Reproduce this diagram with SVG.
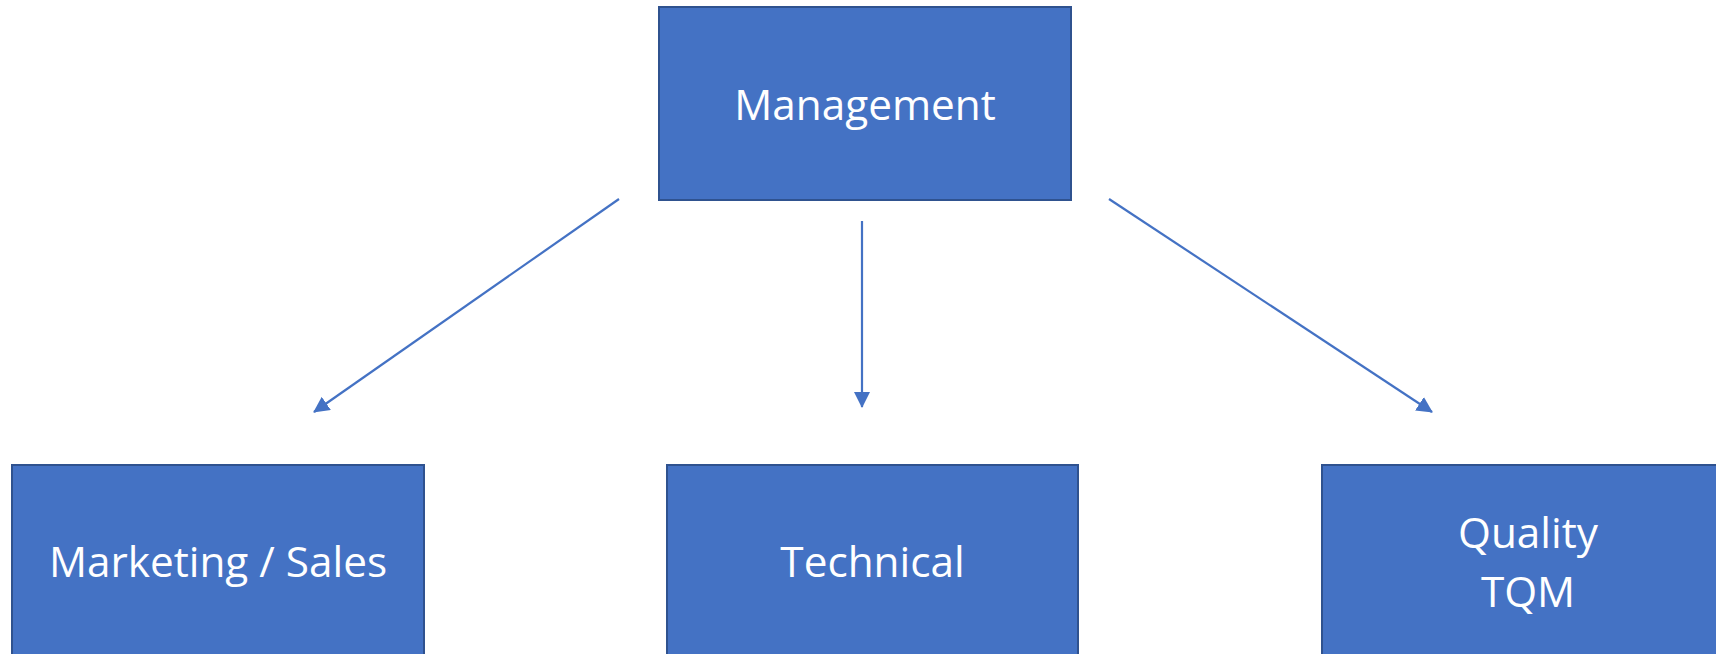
<svg xmlns="http://www.w3.org/2000/svg" width="1716" height="654" viewBox="0 0 1716 654">
  <style>
    .box { fill: #4472C4; stroke: #2F528F; stroke-width: 2; }
    .lbl { fill: #FFFFFF; font-family: "Open Sans", "Noto Sans", "Liberation Sans", sans-serif; font-size: 42.3px; text-anchor: middle; }
    .conn { stroke: #4472C4; stroke-width: 2.2; fill: none; marker-end: url(#arrow); }
  </style>
  <defs>
    <marker id="arrow" markerUnits="userSpaceOnUse" markerWidth="16" markerHeight="16" refX="15" refY="8" orient="auto">
      <path d="M0,0 L16,8 L0,16 Z" fill="#4472C4"/>
    </marker>
  </defs>
  <rect width="1716" height="654" fill="#FFFFFF"/>
  <g id="management">
    <rect class="box" x="659" y="7" width="412" height="193"/>
    <text class="lbl" x="865" y="120">Management</text>
  </g>
  <g id="marketing-sales">
    <rect class="box" x="12" y="465" width="412" height="200"/>
    <text class="lbl" x="218" y="577">Marketing / Sales</text>
  </g>
  <g id="technical">
    <rect class="box" x="667" y="465" width="411" height="200"/>
    <text class="lbl" x="872.5" y="577">Technical</text>
  </g>
  <g id="quality-tqm">
    <rect class="box" x="1322" y="465" width="412" height="200"/>
    <text class="lbl" x="1528" y="548">Quality</text>
    <text class="lbl" x="1528" y="607">TQM</text>
  </g>
  <g id="connectors">
    <line class="conn" x1="619" y1="199" x2="314" y2="412"/>
    <line class="conn" x1="862" y1="221" x2="862" y2="407"/>
    <line class="conn" x1="1109" y1="199" x2="1432" y2="412"/>
  </g>
</svg>
